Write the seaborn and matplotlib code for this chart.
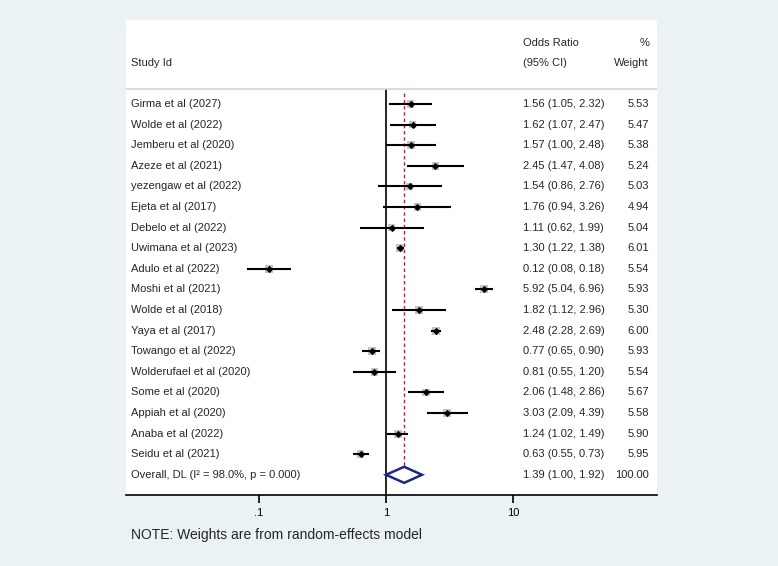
import numpy as np
import pandas as pd
import seaborn as sns
import matplotlib.pyplot as plt
from matplotlib.patches import Polygon
from matplotlib.ticker import NullLocator

studies = [
    "Girma et al (2027)", "Wolde et al (2022)", "Jemberu et al (2020)",
    "Azeze et al (2021)", "yezengaw et al (2022)", "Ejeta et al (2017)",
    "Debelo et al (2022)", "Uwimana et al (2023)", "Adulo et al (2022)",
    "Moshi et al (2021)", "Wolde et al (2018)", "Yaya et al (2017)",
    "Towango et al (2022)", "Wolderufael et al (2020)", "Some et al (2020)",
    "Appiah et al (2020)", "Anaba et al (2022)", "Seidu et al (2021)",
]
odds = [1.56, 1.62, 1.57, 2.45, 1.54, 1.76, 1.11, 1.30, 0.12,
        5.92, 1.82, 2.48, 0.77, 0.81, 2.06, 3.03, 1.24, 0.63]
lower = [1.05, 1.07, 1.00, 1.47, 0.86, 0.94, 0.62, 1.22, 0.08,
         5.04, 1.12, 2.28, 0.65, 0.55, 1.48, 2.09, 1.02, 0.55]
upper = [2.32, 2.47, 2.48, 4.08, 2.76, 3.26, 1.99, 1.38, 0.18,
         6.96, 2.96, 2.69, 0.90, 1.20, 2.86, 4.39, 1.49, 0.73]
weights = [5.53, 5.47, 5.38, 5.24, 5.03, 4.94, 5.04, 6.01, 5.54,
           5.93, 5.30, 6.00, 5.93, 5.54, 5.67, 5.58, 5.90, 5.95]

overall_label = "Overall, DL (I\u00b2 = 98.0%, p = 0.000)"
overall_or, overall_lo, overall_hi, overall_weight = 1.39, 1.00, 1.92, 100.00

tick_values = [0.1, 1, 10]
tick_labels = [".1", "1", "10"]
note = "NOTE: Weights are from random-effects model"

df = pd.DataFrame({"study": studies, "odds": odds, "lower": lower,
                   "upper": upper, "weight": weights})
df["row"] = np.arange(len(df))
overall_row = len(df)

sns.set_theme(style="white")
plt.rcParams["font.family"] = ["Liberation Sans", "DejaVu Sans"]

bg = "#eaf2f3"
fig = plt.figure(figsize=(7.78, 5.66), dpi=100, facecolor=bg)
ax = fig.add_axes([126 / 778, 1 - 495 / 566, 531 / 778, 475 / 566])
ax.set_facecolor("white")
ax.set_xscale("log")
ax.set_xlim(10 ** ((126 - 386) / 127), 10 ** ((657 - 386) / 127))
ax.set_ylim(18.98, -4.08)

# reference lines
ax.vlines(1, -0.73, 18.98, color="black", lw=1.2, zorder=1)
ax.vlines(overall_or, -0.55, overall_row - 0.39, color="#a3303c", lw=1.0,
          linestyles=(0, (2.5, 2)), zorder=1)

# weight boxes, CI lines, point estimates
wmin, wmax = min(weights), max(weights)
sns.scatterplot(data=df, x="odds", y="row", size="weight",
                sizes=(wmin * 5.5, wmax * 5.5), size_norm=(wmin, wmax),
                marker="s", color="#c4c4c4", linewidth=0, legend=False,
                ax=ax, zorder=2)
ax.hlines(df["row"], df["lower"], df["upper"], color="black", lw=1.5, zorder=3)
sns.scatterplot(data=df, x="odds", y="row", marker="D", color="black",
                s=14, linewidth=0, legend=False, ax=ax, zorder=4)

# overall diamond
diamond = Polygon([(overall_lo, overall_row), (overall_or, overall_row - 0.39),
                   (overall_hi, overall_row), (overall_or, overall_row + 0.39)],
                  closed=True, facecolor="white", edgecolor="#1b2a80",
                  lw=1.8, zorder=5)
ax.add_patch(diamond)

# header separator
ax.axhline(-0.73, color="#d4d4d4", lw=1.2, zorder=1)

# text columns
trans = ax.get_yaxis_transform()
x_name, x_est, x_wt = 0.0094, 0.7476, 0.985
fs = 8
ax.text(x_name, -1.99, "Study Id", transform=trans, fontsize=fs, va="center")
ax.text(x_est, -2.96, "Odds Ratio", transform=trans, fontsize=fs, va="center")
ax.text(x_est, -1.99, "(95% CI)", transform=trans, fontsize=fs, va="center")
ax.text(x_wt, -2.96, "%", transform=trans, fontsize=fs, va="center", ha="right")
ax.text(x_wt, -1.99, "Weight", transform=trans, fontsize=fs, va="center", ha="right")

for _, r in df.iterrows():
    ax.text(x_name, r["row"], r["study"], transform=trans, fontsize=fs, va="center")
    ax.text(x_est, r["row"], f"{r['odds']:.2f} ({r['lower']:.2f}, {r['upper']:.2f})",
            transform=trans, fontsize=fs, va="center")
    ax.text(x_wt, r["row"], f"{r['weight']:.2f}", transform=trans,
            fontsize=fs, va="center", ha="right")

ax.text(x_name, overall_row, overall_label, transform=trans, fontsize=fs, va="center")
ax.text(x_est, overall_row, f"{overall_or:.2f} ({overall_lo:.2f}, {overall_hi:.2f})",
        transform=trans, fontsize=fs, va="center")
ax.text(x_wt, overall_row, f"{overall_weight:.2f}", transform=trans,
        fontsize=fs, va="center", ha="right")

# axis styling
ax.set_xticks(tick_values)
ax.set_xticklabels(tick_labels)
ax.xaxis.set_minor_locator(NullLocator())
ax.set_yticks([])
ax.set_xlabel("")
ax.set_ylabel("")
ax.tick_params(axis="x", bottom=True, direction="out", length=6, width=1.2,
               pad=3, labelsize=8, colors="black")
for side in ["top", "left", "right"]:
    ax.spines[side].set_visible(False)
ax.spines["bottom"].set_color("black")
ax.spines["bottom"].set_linewidth(1.2)

fig.text(131 / 778, 1 - 535 / 566, note, fontsize=10, va="center")

fig.savefig("out.png", dpi=100, facecolor=bg)
